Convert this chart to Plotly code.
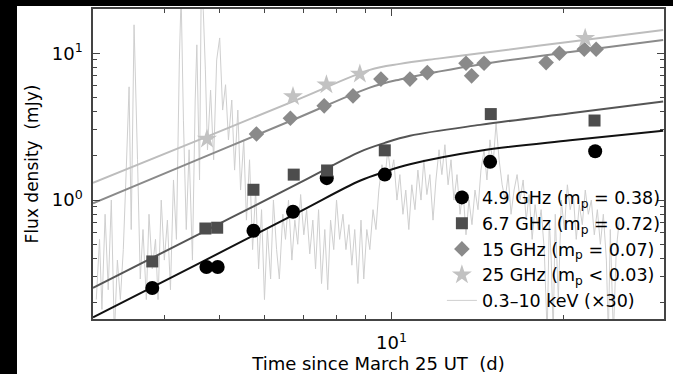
import plotly.graph_objects as go

# ---------------- data ----------------
t_49 = [3.81, 4.74, 4.96, 5.73, 6.72, 7.70, 9.73, 14.88, 22.73]
f_49 = [0.252, 0.350, 0.350, 0.618, 0.833, 1.41, 1.49, 1.82, 2.15]

t_67 = [3.81, 4.72, 4.95, 5.73, 6.74, 7.71, 9.73, 14.92, 22.67]
f_67 = [0.382, 0.640, 0.648, 1.175, 1.49, 1.59, 2.18, 3.85, 3.48]

t_15 = [5.80, 6.65, 7.62, 8.56, 9.58, 10.77, 11.55, 13.50, 13.81, 14.52, 18.65, 19.68, 21.75, 22.82]
f_15 = [2.82, 3.61, 4.38, 5.12, 6.66, 6.66, 7.38, 8.55, 7.01, 8.55, 8.63, 10.0, 10.65, 10.65]

t_25 = [4.75, 6.72, 7.69, 8.80, 21.83]
f_25 = [2.60, 5.07, 6.09, 7.23, 12.65]

# model curves (points read along the drawn fits)
fit_t = [3.0, 4.61, 6.91, 8.80, 9.73, 10.77, 14.29, 20.55, 29.9]
fit_49 = [0.159, 0.372, 0.834, 1.353, 1.557, 1.752, 2.165, 2.55, 2.96]
fit_67 = [0.252, 0.589, 1.315, 2.13, 2.45, 2.74, 3.25, 3.90, 4.69]
fit_t_hi = [3.0, 4.61, 6.91, 9.16, 10.34, 12.15, 14.29, 20.55, 29.9]
fit_15 = [0.951, 1.906, 3.68, 5.83, 6.63, 7.52, 8.39, 10.2, 12.32]
fit_25 = [1.31, 2.58, 4.91, 7.70, 8.46, 9.22, 10.0, 11.96, 14.4]

# X-ray light curve, 0.3-10 keV scaled x30
xr_t = [3.04, 3.08, 3.11, 3.15, 3.19, 3.23, 3.27, 3.31, 3.35, 3.39, 3.43, 3.47, 3.50, 3.54, 3.59,
        3.63, 3.67, 3.72, 3.76, 3.81, 3.86, 3.90, 3.95, 4.00, 4.05, 4.10, 4.15, 4.20, 4.25, 4.28,
        4.32, 4.37, 4.42, 4.48, 4.53, 4.56, 4.61, 4.64, 4.68, 4.72, 4.76, 4.82, 4.88, 4.94, 5.00,
        5.06, 5.12, 5.18, 5.25, 5.31, 5.38, 5.44, 5.51, 5.57, 5.64, 5.71, 5.78, 5.85, 5.92, 5.99,
        6.06, 6.14, 6.21, 6.29, 6.36, 6.45, 6.52, 6.60, 6.69, 6.77, 6.85, 6.93, 7.02, 7.10, 7.19,
        7.28, 7.36, 7.45, 7.54, 7.64, 7.73, 7.82, 7.92, 8.01, 8.11, 8.22, 8.32, 8.42, 8.52, 8.62,
        8.73, 8.84, 8.94, 9.05, 9.16, 9.28, 9.39, 9.50, 9.62, 9.73, 9.85, 9.97, 10.09, 10.22, 10.34,
        10.47, 10.59, 10.72, 10.85, 10.99, 11.12, 11.26, 11.39, 11.53, 11.67, 11.82, 11.96, 12.11, 12.25, 12.40,
        12.56, 12.71, 12.86, 13.02, 13.18, 13.34, 13.50, 13.66, 13.83, 14.00, 14.17, 14.34, 14.52, 14.69, 14.87,
        15.06, 15.24, 15.43, 15.62, 15.81, 16.00, 16.19, 16.39, 16.59, 16.79, 17.00, 17.21, 17.42, 17.63, 17.84,
        18.06, 18.28, 18.51, 18.73, 18.89, 19.04, 19.19, 19.35, 19.59, 19.83, 20.07, 20.32, 20.55, 20.81, 21.06,
        21.32, 21.58, 21.84, 22.11, 22.38, 22.65, 22.93, 23.21, 23.49, 23.78, 23.97, 24.16, 24.46, 24.75, 25.05]
xr_f = [0.21, 0.54, 0.18, 0.80, 0.245, 1.0, 0.12, 0.39, 0.21, 0.46, 1.6, 5.9, 0.63, 15.6, 1.88,
        0.29, 0.63, 0.21, 0.80, 0.34, 0.54, 0.21, 1.0, 0.39, 0.73, 0.245, 1.37, 0.54, 9.0, 25,
        3.5, 0.63, 2.2, 0.39, 4.8, 11.4, 1.37, 25, 19.6, 7.7, 2.2, 5.6, 1.88, 9.0, 12.7,
        4.1, 6.1, 2.57, 4.8, 1.6, 4.1, 1.17, 2.57, 0.73, 1.88, 0.46, 1.17, 0.34, 0.86, 0.21,
        0.63, 0.29, 1.0, 0.46, 0.29, 0.80, 0.54, 1.0, 0.39, 0.73, 0.50, 1.09, 0.58, 0.86, 0.43,
        0.73, 0.34, 0.86, 0.27, 0.63, 0.245, 0.73, 0.46, 1.0, 0.54, 0.80, 0.46, 0.68, 0.36, 0.63,
        0.27, 0.73, 0.29, 0.63, 0.46, 0.86, 0.63, 1.17, 1.74, 1.37, 2.2, 1.49, 1.88, 1.0, 1.49,
        0.80, 1.17, 0.63, 1.27, 0.86, 1.6, 1.0, 1.88, 1.09, 1.49, 0.73, 1.37, 2.2, 1.49, 2.38,
        1.27, 1.88, 1.0, 1.49, 0.80, 1.17, 0.58, 1.0, 0.68, 1.17, 0.86, 1.6, 2.2, 1.37, 2.57,
        1.74, 3.35, 1.88, 1.27, 1.0, 1.49, 0.80, 1.17, 1.49, 1.0, 1.37, 0.73, 1.09, 0.54, 0.93,
        0.63, 0.86, 0.46, 0.12, 0.73, 0.39, 0.12, 0.80, 0.21, 1.0, 0.63, 1.27, 0.86, 1.09, 0.54,
        0.93, 0.68, 1.17, 0.80, 1.0, 0.58, 0.86, 0.50, 0.80, 0.39, 0.12, 0.63, 0.12, 0.46, 0.73]

# axis ticks
x_major = [10]
x_major_text = ["10<sup>1</sup>"]
x_minor = [4, 5, 6, 7, 8, 9, 20, 30]
y_major = [1, 10]
y_major_text = ["10<sup>0</sup>", "10<sup>1</sup>"]
y_minor = [0.2, 0.3, 0.4, 0.5, 0.6, 0.7, 0.8, 0.9, 2, 3, 4, 5, 6, 7, 8, 9, 20]

# ---------------- figure ----------------
FONT = "DejaVu Sans"
fig = go.Figure()

fig.add_trace(go.Scatter(x=xr_t, y=xr_f, mode="lines", line=dict(color="#cfcfcf", width=1),
                         name="0.3\u201310 keV (\u00d730)", legendrank=5))

fig.add_trace(go.Scatter(x=fit_t_hi, y=fit_25, mode="lines", line=dict(color="#bdbdbd", width=2, shape="spline"),
                         showlegend=False, hoverinfo="skip"))
fig.add_trace(go.Scatter(x=fit_t_hi, y=fit_15, mode="lines", line=dict(color="#8a8a8a", width=2, shape="spline"),
                         showlegend=False, hoverinfo="skip"))
fig.add_trace(go.Scatter(x=fit_t, y=fit_67, mode="lines", line=dict(color="#555555", width=2, shape="spline"),
                         showlegend=False, hoverinfo="skip"))
fig.add_trace(go.Scatter(x=fit_t, y=fit_49, mode="lines", line=dict(color="#111111", width=2, shape="spline"),
                         showlegend=False, hoverinfo="skip"))

fig.add_trace(go.Scatter(x=t_49, y=f_49, mode="markers", name="4.9 GHz (m<sub>p</sub> = 0.38)",
                         marker=dict(symbol="circle", size=14, color="#000000"), legendrank=1))
fig.add_trace(go.Scatter(x=t_67, y=f_67, mode="markers", name="6.7 GHz (m<sub>p</sub> = 0.72)",
                         marker=dict(symbol="square", size=12, color="#4d4d4d"), legendrank=2))
fig.add_trace(go.Scatter(x=t_15, y=f_15, mode="markers", name="15 GHz (m<sub>p</sub> = 0.07)",
                         marker=dict(symbol="diamond", size=12, color="#8a8a8a"), legendrank=3))
fig.add_trace(go.Scatter(x=t_25, y=f_25, mode="markers", name="25 GHz (m<sub>p</sub> &lt; 0.03)",
                         marker=dict(symbol="star", size=15, color="#c2c2c2"), legendrank=4))

axis_common = dict(
    type="log", showgrid=False, zeroline=False, showline=True, linecolor="#444444", linewidth=1.5,
    ticks="inside", ticklen=7, tickwidth=1, tickcolor="#444444", mirror="ticks",
    tickfont=dict(family=FONT, size=18, color="#000000"),
    minor=dict(ticks="inside", ticklen=4, tickwidth=1, tickcolor="#444444", showgrid=False),
)

fig.update_layout(
    width=673, height=374,
    margin=dict(l=0, r=0, t=0, b=0, pad=0, autoexpand=False),
    paper_bgcolor="white", plot_bgcolor="white",
    font=dict(family=FONT, color="#000000"),
    showlegend=True,
    legend=dict(x=0.6566, y=0.52, xanchor="left", yanchor="top", bgcolor="rgba(0,0,0,0)",
                font=dict(family=FONT, size=17.5, color="#000000"), tracegroupgap=0,
                itemsizing="trace"),
    xaxis=dict(axis_common, domain=[0.138187, 0.986627], range=[0.47712, 1.47712],
               tickmode="array", tickvals=x_major, ticktext=x_major_text,
               title=dict(text="Time since March 25 UT\u00a0\u00a0(d)", font=dict(family=FONT, size=18), standoff=3),
               ticklabelstandoff=7),
    yaxis=dict(axis_common, domain=[0.147059, 0.975936], range=[-0.81, 1.301],
               tickmode="array", tickvals=y_major, ticktext=y_major_text,
               title=dict(text="Flux density\u00a0\u00a0(mJy)", font=dict(family=FONT, size=17), standoff=9),
               ticklabelstandoff=5),
    shapes=[
        dict(type="rect", xref="paper", yref="paper", x0=0, x1=0.02526, y0=0, y1=1,
             fillcolor="black", line=dict(width=0), layer="above"),
        dict(type="rect", xref="paper", yref="paper", x0=0, x1=1, y0=0.98396, y1=1,
             fillcolor="black", line=dict(width=0), layer="above"),
    ],
)
fig.update_xaxes(minor=dict(tickmode="array", tickvals=x_minor))
fig.update_yaxes(minor=dict(tickmode="array", tickvals=y_minor))

fig.write_html("out.html")
